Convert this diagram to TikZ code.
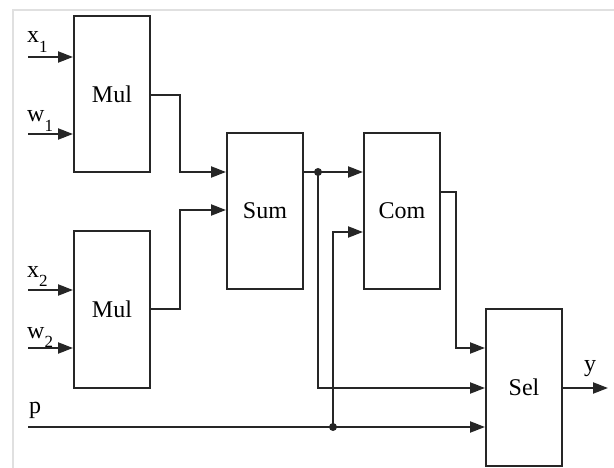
\documentclass[tikz,border=0pt]{standalone}
\usepackage{fontspec}
\setmainfont{Liberation Serif}
\usetikzlibrary{arrows.meta}
\newcommand{\lowidx}[1]{\raisebox{-0.4em}{\fontsize{17}{17}\selectfont #1}}
\begin{document}
\begin{tikzpicture}[x=1pt,y=-1pt,
  blk/.style={draw=black!85,line width=2pt,minimum width=76pt,minimum height=156pt,inner sep=0pt,font=\fontsize{24}{26}\selectfont},
  wire/.style={draw=black!85,line width=2.2pt},
  arr/.style={wire,-{Triangle[length=15pt,width=11pt]}},
  lbl/.style={inner sep=0pt,anchor=base west,font=\fontsize{24}{26}\selectfont},
  dot/.style={circle,fill=black!85,inner sep=0pt,minimum size=8pt}]
\useasboundingbox (0,0) rectangle (614,468);
\draw[black!12,line width=2pt] (13,468) -- (13,10) -- (614,10);
% blocks
\node[blk] (mul1) at (112,94) {Mul};
\node[blk] (mul2) at (112,309.5) {Mul};
\node[blk] (sum) at (265,211) {Sum};
\node[blk] (com) at (402,211) {Com};
\node[blk,minimum height=157pt] (sel) at (524,387.5) {Sel};
% input ends
\coordinate (x1) at (28,57);
\coordinate (w1) at (28,134);
\coordinate (x2) at (28,290);
\coordinate (w2) at (28,348);
\coordinate (p) at (28,427);
\coordinate (yout) at (608,388);
\coordinate (j1) at (318,172);
\coordinate (j2) at (333,427);
% labels
\node[lbl] (lx1) at (27,43) {x\lowidx{1}};
\node[lbl] (lw1) at (27,122) {w\lowidx{1}};
\node[lbl] (lx2) at (27,277) {x\lowidx{2}};
\node[lbl] (lw2) at (27,338) {w\lowidx{2}};
\node[lbl] (lp) at (29,413) {p};
\node[lbl] (ly) at (584,371) {y};
% inputs
\draw[arr] (x1) -- (x1 -| mul1.west);
\draw[arr] (w1) -- (w1 -| mul1.west);
\draw[arr] (x2) -- (x2 -| mul2.west);
\draw[arr] (w2) -- (w2 -| mul2.west);
% mul -> sum
\draw[arr] (mul1.east |- 0,95) -- (180,95) -- (180,172) -- (sum.west |- 0,172);
\draw[arr] (mul2.east |- 0,309) -- (180,309) -- (180,210) -- (sum.west |- 0,210);
% sum -> com, sel
\draw[wire] (sum.east |- j1) -- (j1);
\draw[arr] (j1) -- (com.west |- j1);
\draw[arr] (j1) -- (318,388) -- (sel.west |- 0,388);
\node[dot] (d1) at (j1) {};
% com -> sel
\draw[arr] (com.east |- 0,192) -- (456,192) -- (456,348) -- (sel.west |- 0,348);
% p
\draw[wire] (p) -- (j2);
\draw[arr] (j2) -- (sel.west |- j2);
\draw[arr] (j2) -- (333,232) -- (com.west |- 0,232);
\node[dot] (d2) at (j2) {};
% output
\draw[arr] (sel.east |- yout) -- (yout);
\end{tikzpicture}
\end{document}
